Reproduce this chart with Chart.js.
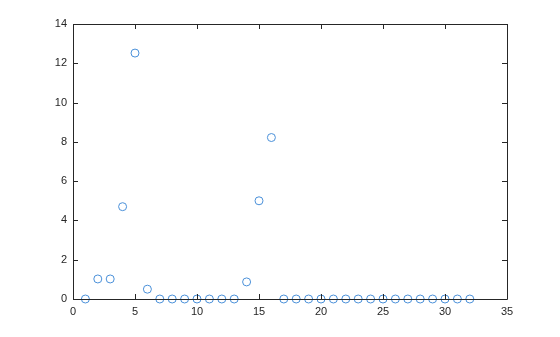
<!DOCTYPE html>
<html>
<head>
<meta charset="utf-8">
<script src="https://cdn.jsdelivr.net/npm/chart.js@4/dist/chart.umd.min.js"></script>
<style>
  html, body { margin: 0; padding: 0; background: #fff; }
  #wrap { width: 560px; height: 337px; }
</style>
</head>
<body>
<div id="wrap"><canvas id="scatter"></canvas></div>
<script>
// data
const xValues = [1, 2, 3, 4, 5, 6, 7, 8, 9, 10, 11, 12, 13, 14, 15, 16,
                 17, 18, 19, 20, 21, 22, 23, 24, 25, 26, 27, 28, 29, 30, 31, 32];
const yValues = [0, 1.02, 1.02, 4.7, 12.52, 0.5, 0, 0, 0, 0, 0, 0, 0, 0.87, 5.0, 8.22,
                 0, 0, 0, 0, 0, 0, 0, 0, 0, 0, 0, 0, 0, 0, 0, 0];
const xTicks = [0, 5, 10, 15, 20, 25, 30, 35];
const yTicks = [0, 2, 4, 6, 8, 10, 12, 14];

const axisColor = '#262626';

// MATLAB-ish box with inward ticks
const boxTicks = {
  id: 'boxTicks',
  afterDraw(chart) {
    const { ctx, chartArea: a, scales } = chart;
    ctx.save();
    ctx.strokeStyle = axisColor;
    ctx.lineWidth = 1;
    ctx.beginPath();
    ctx.rect(Math.round(a.left) + 0.5, Math.round(a.top) + 0.5,
             Math.round(a.right - a.left), Math.round(a.bottom - a.top));
    const len = 5;
    xTicks.forEach(v => {
      const px = Math.round(scales.x.getPixelForValue(v)) + 0.5;
      ctx.moveTo(px, a.bottom); ctx.lineTo(px, a.bottom - len);
      ctx.moveTo(px, a.top); ctx.lineTo(px, a.top + len);
    });
    yTicks.forEach(v => {
      const py = Math.round(scales.y.getPixelForValue(v)) + 0.5;
      ctx.moveTo(a.left, py); ctx.lineTo(a.left + len, py);
      ctx.moveTo(a.right, py); ctx.lineTo(a.right - len, py);
    });
    ctx.stroke();
    ctx.restore();
  }
};

const points = xValues.map((x, i) => ({ x: x, y: yValues[i] }));

new Chart(document.getElementById('scatter'), {
  type: 'scatter',
  data: {
    datasets: [{
      data: points,
      pointStyle: 'circle',
      pointRadius: 4,
      pointHoverRadius: 4,
      borderWidth: 1,
      borderColor: '#4a90d9',
      backgroundColor: 'rgba(0,0,0,0)',
      clip: false
    }]
  },
  options: {
    responsive: true,
    maintainAspectRatio: false,
    animation: false,
    layout: { padding: { left: 0, top: 24, right: 53, bottom: 0 } },
    plugins: { legend: { display: false }, tooltip: { enabled: false } },
    scales: {
      x: {
        type: 'linear',
        min: 0, max: 35,
        afterFit: s => { s.height = 38; },
        afterBuildTicks: s => { s.ticks = xTicks.map(v => ({ value: v })); },
        grid: { display: false, drawTicks: false },
        border: { display: false },
        ticks: { color: axisColor, padding: 6, font: { family: 'Arial, "Liberation Sans"', size: 11 }, maxRotation: 0 }
      },
      y: {
        type: 'linear',
        min: 0, max: 14,
        afterFit: s => { s.width = 73; },
        afterBuildTicks: s => { s.ticks = yTicks.map(v => ({ value: v })); },
        grid: { display: false, drawTicks: false },
        border: { display: false },
        ticks: { color: axisColor, padding: 6, font: { family: 'Arial, "Liberation Sans"', size: 11 } }
      }
    }
  },
  plugins: [boxTicks]
});
</script>
</body>
</html>
